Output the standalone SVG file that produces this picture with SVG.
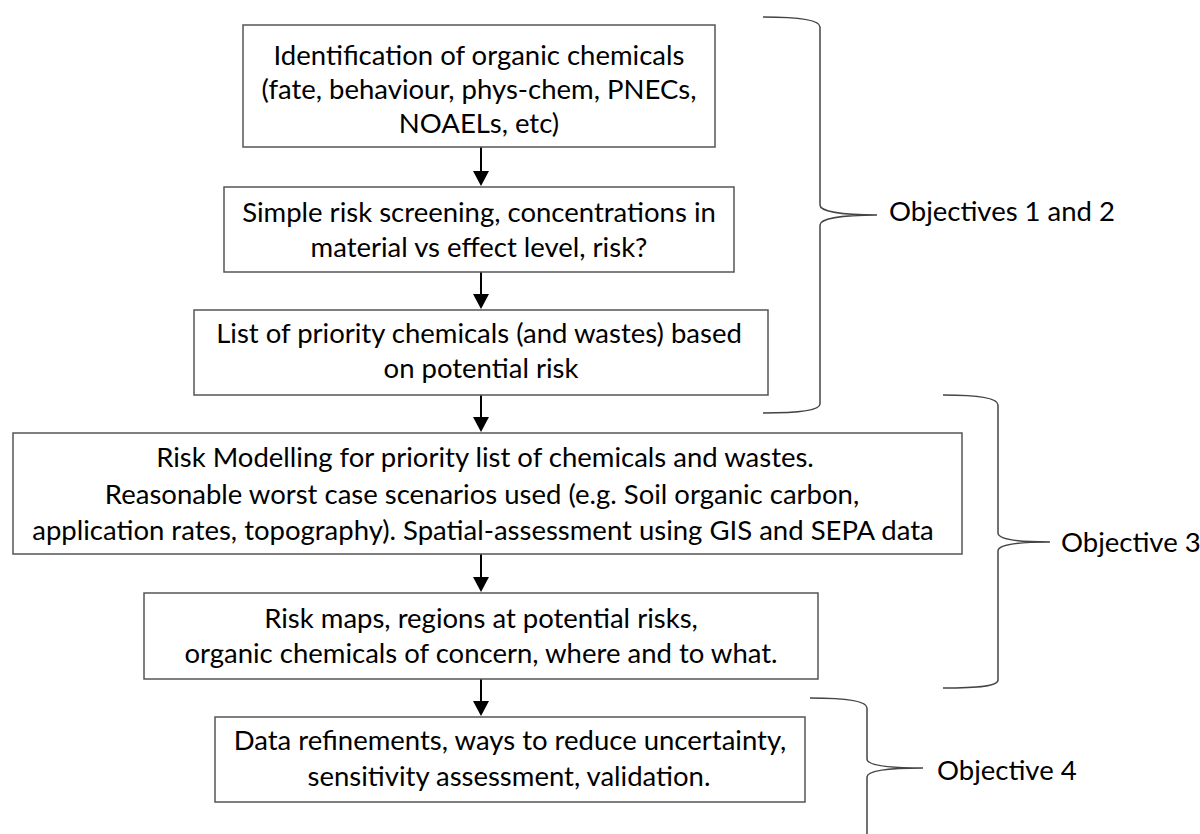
<svg xmlns="http://www.w3.org/2000/svg" width="1200" height="834" viewBox="0 0 1200 834">
<style>
.box{fill:#fff;stroke:#555;stroke-width:1.5}
.t{font-family:Lato,"Liberation Sans",sans-serif;font-size:27.5px;fill:#000;text-anchor:middle}
.tl{font-family:Lato,"Liberation Sans",sans-serif;font-size:27.5px;fill:#000}
.arr{stroke:#000;stroke-width:2;fill:none}
.brace{stroke:#444;stroke-width:1.5;fill:none}
</style>
<defs>
<marker id="ah" markerUnits="userSpaceOnUse" markerWidth="16" markerHeight="16" viewBox="0 0 16 16" refX="8" refY="15" orient="auto-start-reverse">
<path d="M0,0 L16,0 L8,15 Z" fill="#000"/>
</marker>
</defs>
<rect width="1200" height="834" fill="#fff"/>
<g id="connectors">
<line class="arr" x1="481" y1="147" x2="481" y2="172"/><path d="M473,171 L489,171 L481,186 Z"/>
<line class="arr" x1="481" y1="272" x2="481" y2="295"/><path d="M473,294 L489,294 L481,309 Z"/>
<line class="arr" x1="481" y1="395" x2="481" y2="418"/><path d="M473,417 L489,417 L481,432 Z"/>
<line class="arr" x1="481" y1="554" x2="481" y2="578"/><path d="M473,577 L489,577 L481,592 Z"/>
<line class="arr" x1="481" y1="679" x2="481" y2="702"/><path d="M473,701 L489,701 L481,716 Z"/>
</g>
<g id="n1">
<rect class="box" x="243" y="25" width="472" height="122"/>
<text class="t" x="479" y="65">Identification of organic chemicals</text>
<text class="t" x="479" y="99">(fate, behaviour, phys-chem, PNECs,</text>
<text class="t" x="479" y="133">NOAELs, etc)</text>
</g>
<g id="n2">
<rect class="box" x="224" y="187" width="510" height="85"/>
<text class="t" x="479" y="222">Simple risk screening, concentrations in</text>
<text class="t" x="479" y="257">material vs effect level, risk?</text>
</g>
<g id="n3">
<rect class="box" x="194" y="310" width="574" height="85"/>
<text class="t" x="479" y="343">List of priority chemicals (and wastes) based</text>
<text class="t" x="481" y="378">on potential risk</text>
</g>
<g id="n4">
<rect class="box" x="13" y="433" width="949" height="121"/>
<text class="t" x="485" y="467">Risk Modelling for priority list of chemicals and wastes.</text>
<text class="t" x="482" y="504">Reasonable worst case scenarios used (e.g. Soil organic carbon,</text>
<text class="t" x="483" y="540">application rates, topography). Spatial-assessment using GIS and SEPA data</text>
</g>
<g id="n5">
<rect class="box" x="144" y="593" width="674" height="86"/>
<text class="t" x="481" y="628">Risk maps, regions at potential risks,</text>
<text class="t" x="481" y="663">organic chemicals of concern, where and to what.</text>
</g>
<g id="n6">
<rect class="box" x="215" y="717" width="590" height="85"/>
<text class="t" x="510" y="750">Data refinements, ways to reduce uncertainty,</text>
<text class="t" x="509" y="786">sensitivity assessment, validation.</text>
</g>
<g id="obj12">
<path class="brace" d="M763,17 C800,17 820,20 820,27 L820,205 C820,211 840,215 877,215 C840,215 820,219 820,225 L820,404 C820,410 800,413 763,413"/>
<text class="tl" x="889" y="221">Objectives 1 and 2</text>
</g>
<g id="obj3">
<path class="brace" d="M943,395 C980,395 998,398 998,405 L998,533 C998,539 1015,542 1050,542 C1015,542 998,545 998,551 L998,680 C998,686 980,688 943,688"/>
<text class="tl" x="1061" y="552">Objective 3</text>
</g>
<g id="obj4">
<path class="brace" d="M810,698 C848,698 867,701 867,708 L867,759 C867,765 885,768 923,768 C885,768 867,771 867,777 L867,834"/>
<text class="tl" x="937" y="780">Objective 4</text>
</g>
</svg>
